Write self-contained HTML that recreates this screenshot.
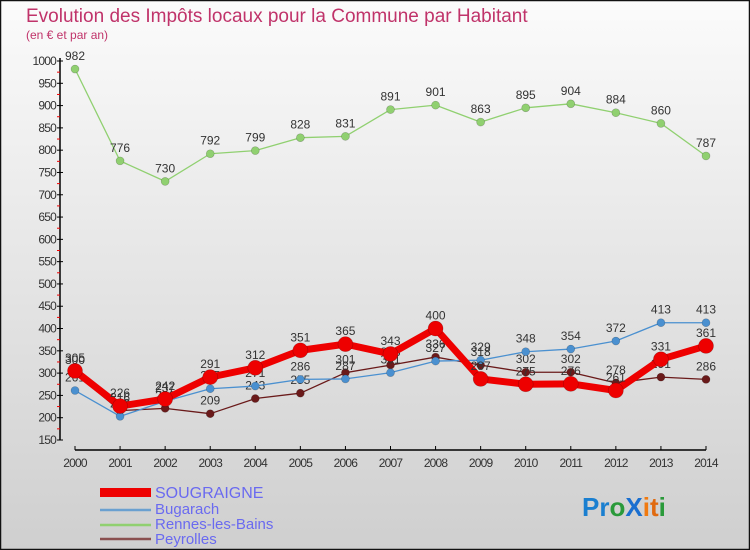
<!DOCTYPE html>
<html><head><meta charset="utf-8"><style>
html,body{margin:0;padding:0}
body{width:750px;height:550px;overflow:hidden;font-family:"Liberation Sans",sans-serif}
</style></head><body>
<svg id="chart" width="750" height="550" xmlns="http://www.w3.org/2000/svg" style="display:block">
<defs><linearGradient id="bg" x1="0" y1="0" x2="0" y2="1"><stop offset="0" stop-color="#fbfbfb"/><stop offset="1" stop-color="#cfcfcf"/></linearGradient></defs>
<rect x="0.5" y="0.5" width="749" height="549" fill="url(#bg)" stroke="#111" stroke-width="1.5"/>
<text x="26" y="22" font-size="19" fill="#c0336a">Evolution des Impôts locaux pour la Commune par Habitant</text>
<text x="26" y="39" font-size="12" fill="#c0336a">(en € et par an)</text>
<g id="axes"></g><g id="series"></g>
<g font-size="15" fill="#6a6af0">
<rect x="100" y="488" width="51" height="9" fill="#ee0000"/>
<text x="155" y="498" font-size="16">SOUGRAIGNE</text>
<line x1="100" y1="510" x2="151" y2="510" stroke="#6aa0d0" stroke-width="2.5"/>
<text x="155" y="514">Bugarach</text>
<line x1="100" y1="525" x2="151" y2="525" stroke="#90d070" stroke-width="2.5"/>
<text x="155" y="529">Rennes-les-Bains</text>
<line x1="100" y1="539" x2="151" y2="539" stroke="#8a5050" stroke-width="2.5"/>
<text x="155" y="544">Peyrolles</text>
</g>
<g font-size="26" font-weight="bold">
<text x="582" y="516"><tspan fill="#1a7fd0">Pr</tspan><tspan fill="#2a9a3a">o</tspan><tspan fill="#1a6fd0">X</tspan><tspan fill="#f07a10">i</tspan><tspan fill="#e06a10">t</tspan><tspan fill="#2a9a3a">i</tspan></text>
</g>
</svg>
<script>
const years=["2000","2001","2002","2003","2004","2005","2006","2007","2008","2009","2010","2011","2012","2013","2014"];
const yTicks=[150,200,250,300,350,400,450,500,550,600,650,700,750,800,850,900,950,1000];
const sougraigne=[305,226,242,291,312,351,365,343,400,287,275,276,261,331,361];
const bugarach=[261,203,237,265,271,286,287,301,327,329,348,354,372,413,413];
const rennes=[982,776,730,792,799,828,831,891,901,863,895,904,884,860,787];
const peyrolles=[300,216,221,209,243,255,301,318,336,318,302,302,278,291,286];
const NS="http://www.w3.org/2000/svg";
function xs(i){return 75+i*(706-75)/(years.length-1);}
function ys(v){return 440-(v-150)*(440-61)/850;}
function mk(tag,attrs,parent){const e=document.createElementNS(NS,tag);for(const k in attrs)e.setAttribute(k,attrs[k]);parent.appendChild(e);return e;}
const ax=document.getElementById('axes');
let yl=mk('line',{x1:60,y1:58,x2:60,y2:440,stroke:'#000','stroke-width':1.5},ax);


yTicks.forEach(v=>{
 const y=ys(v);
 mk('line',{x1:57,y1:y,x2:63,y2:y,stroke:'#000'},ax);
 if(v<1000){const r=mk('line',{x1:57,y1:ys(v+25),x2:60,y2:ys(v+25),stroke:'#e00'},ax);}
 const t=mk('text',{x:56,y:y+4,'font-size':12,'text-anchor':'end',fill:'#333','letter-spacing':'-0.8'},ax);
 t.textContent=v;
 
 
});
let xl=mk('line',{x1:75,y1:450,x2:706,y2:450,stroke:'#000','stroke-width':1.5},ax);


years.forEach((yr,i)=>{
 const x=xs(i);
 mk('line',{x1:x,y1:446,x2:x,y2:450,stroke:'#000'},ax);
 const t=mk('text',{x:x,y:467,'font-size':12,'text-anchor':'middle',fill:'#333','letter-spacing':'-0.8'},ax);
 t.textContent=yr;
 
 
});
const sg=document.getElementById('series');
function draw(name,vals,color,w,r,labels){
 const g=mk('g',{},sg);
 
 
 const p=mk('polyline',{points:vals.map((v,i)=>xs(i)+','+ys(v)).join(' '),fill:'none',stroke:color,'stroke-width':w,'stroke-linejoin':'round'},g);
 
 vals.forEach((v,i)=>{
  const c=mk('circle',{cx:xs(i),cy:ys(v),r:r,fill:color,stroke:'rgba(0,0,0,0.25)','stroke-width':0.6},g);
  
  
  const t=mk('text',{x:xs(i),y:ys(v)-9,'font-size':12,'text-anchor':'middle',fill:'#333'},g);
  t.textContent=v;
  
  
 });
}
draw('rennes',rennes,'#90d070',1.3,4,true);
draw('peyrolles',peyrolles,'#6a1a1a',1.3,4,true);
draw('bugarach',bugarach,'#4a90d0',1.3,4,true);
draw('sougraigne',sougraigne,'#ee0000',7,7.5,true);
</script>
</body></html>
